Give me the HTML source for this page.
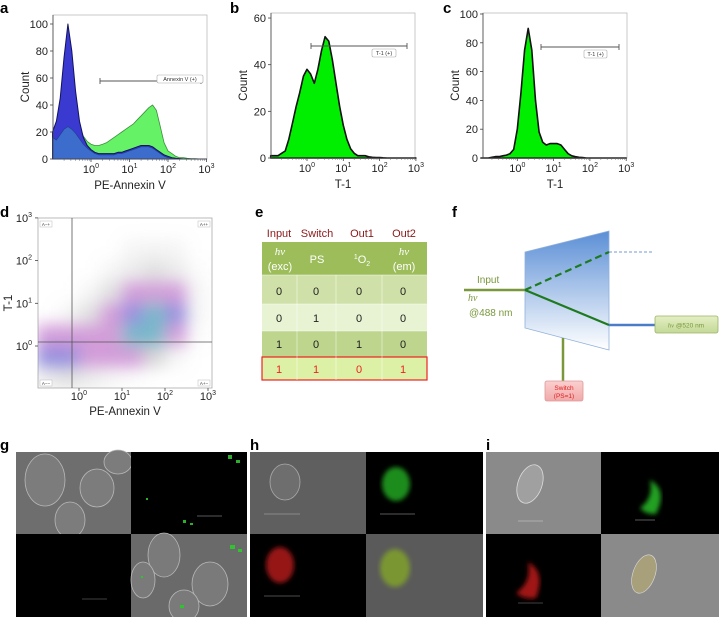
<!DOCTYPE html>
<html><head><meta charset="utf-8"><style>
html,body{margin:0;padding:0;background:#fff;}
svg{display:block;font-family:"Liberation Sans",Arial,sans-serif;}
</style></head><body>
<svg id="fig" width="719" height="617" viewBox="0 0 719 617" xmlns="http://www.w3.org/2000/svg">
<defs>
 <filter id="blur" x="-20%" y="-20%" width="140%" height="140%"><feGaussianBlur stdDeviation="8"/></filter>
 <filter id="soft"><feGaussianBlur stdDeviation="2.5"/></filter>
 <linearGradient id="prism" x1="0" y1="0" x2="0" y2="1"><stop offset="0" stop-color="#5b8fd6"/><stop offset="1" stop-color="#ffffff"/></linearGradient>
 <linearGradient id="boxg" x1="0" y1="0" x2="0" y2="1"><stop offset="0" stop-color="#e4efc4"/><stop offset="1" stop-color="#c4d996"/></linearGradient>
 <linearGradient id="boxp" x1="0" y1="0" x2="0" y2="1"><stop offset="0" stop-color="#fbd0d0"/><stop offset="1" stop-color="#f2a8a8"/></linearGradient>
 <clipPath id="clipD"><rect x="38" y="218" width="174" height="170"/></clipPath>
</defs>

<text x="0" y="13" font-size="15" font-weight="bold">a</text>
<text x="230" y="13" font-size="15" font-weight="bold">b</text>
<text x="443" y="13" font-size="15" font-weight="bold">c</text>
<text x="0" y="217" font-size="15" font-weight="bold">d</text>
<text x="255" y="217" font-size="15" font-weight="bold">e</text>
<text x="452" y="217" font-size="15" font-weight="bold">f</text>
<text x="0" y="450" font-size="15" font-weight="bold">g</text>
<text x="250" y="450" font-size="15" font-weight="bold">h</text>
<text x="486" y="450" font-size="15" font-weight="bold">i</text>

<g id="charts"></g>

<g font-size="11">
 <text x="279" y="237" text-anchor="middle" fill="#8b1a1a">Input</text>
 <text x="317" y="237" text-anchor="middle" fill="#8b1a1a">Switch</text>
 <text x="362" y="237" text-anchor="middle" fill="#8b1a1a">Out1</text>
 <text x="404" y="237" text-anchor="middle" fill="#8b1a1a">Out2</text>
 <rect x="262" y="242" width="165" height="33" fill="#9cbd5a"/>
 <rect x="262" y="275" width="165" height="29" fill="#cfe0a8"/>
 <rect x="262" y="304" width="165" height="27" fill="#e7f3d2"/>
 <rect x="262" y="331" width="165" height="26" fill="#bdd58c"/>
 <rect x="262" y="357" width="165" height="23" fill="#dcf0a6" stroke="#ee2222" stroke-width="1.2"/>
 <g stroke="#ffffff" stroke-opacity="0.6" stroke-width="0.8">
  <line x1="297" y1="275" x2="297" y2="380"/><line x1="336" y1="275" x2="336" y2="380"/><line x1="382" y1="275" x2="382" y2="380"/>
  <line x1="262" y1="275" x2="427" y2="275"/><line x1="262" y1="304" x2="427" y2="304"/><line x1="262" y1="331" x2="427" y2="331"/>
 </g>
 <g fill="#ffffff" text-anchor="middle" font-size="11">
  <text x="280" y="255" font-family="Liberation Serif,serif" font-style="italic">hν</text>
  <text x="280" y="270">(exc)</text>
  <text x="317" y="263">PS</text>
  <text x="362" y="263"><tspan font-size="7" dy="-4">1</tspan><tspan dy="4">O</tspan><tspan font-size="7" dy="3">2</tspan></text>
  <text x="404" y="255" font-family="Liberation Serif,serif" font-style="italic">hν</text>
  <text x="404" y="270">(em)</text>
 </g>
 <g text-anchor="middle" fill="#222">
  <text x="279" y="295">0</text><text x="316" y="295">0</text><text x="359" y="295">0</text><text x="403" y="295">0</text>
  <text x="279" y="322">0</text><text x="316" y="322">1</text><text x="359" y="322">0</text><text x="403" y="322">0</text>
  <text x="279" y="348">1</text><text x="316" y="348">0</text><text x="359" y="348">1</text><text x="403" y="348">0</text>
 </g>
 <g text-anchor="middle" fill="#ee2222">
  <text x="279" y="373">1</text><text x="316" y="373">1</text><text x="359" y="373">0</text><text x="403" y="373">1</text>
 </g>
</g>

<g>
 <polygon points="525,252 609,231 609,350 525,328" fill="url(#prism)" stroke="#8fb0dc" stroke-width="0.8"/>
 <line x1="464" y1="290" x2="525" y2="290" stroke="#7a973c" stroke-width="2.5"/>
 <line x1="525" y1="290" x2="609" y2="252" stroke="#1e7a1e" stroke-width="2.2" stroke-dasharray="7,4"/>
 <line x1="525" y1="290" x2="609" y2="325" stroke="#1e7a1e" stroke-width="2.2"/>
 <line x1="609" y1="252" x2="653" y2="252" stroke="#4a78c8" stroke-width="0.8" stroke-dasharray="3,2"/>
 <line x1="609" y1="325" x2="655" y2="325" stroke="#4a7cc8" stroke-width="2.5"/>
 <line x1="563" y1="338" x2="563" y2="381" stroke="#7a973c" stroke-width="2.5"/>
 <text x="477" y="283" font-size="10" fill="#7a973c">Input</text>
 <text x="468" y="301" font-size="10" fill="#7a973c" font-style="italic" font-family="Liberation Serif,serif">hν</text>
 <text x="469" y="316" font-size="10" fill="#7a973c">@488 nm</text>
 <rect x="655" y="316" width="63" height="17" rx="2" fill="url(#boxg)" stroke="#9ab36a" stroke-width="0.8"/>
 <text x="686" y="327.5" font-size="6.5" fill="#7a973c" text-anchor="middle"><tspan font-style="italic" font-family="Liberation Serif,serif">hν</tspan> @520 nm</text>
 <rect x="545" y="381" width="38" height="20" rx="2" fill="url(#boxp)" stroke="#dd9999" stroke-width="0.8"/>
 <text x="564" y="390" font-size="6.5" fill="#e02020" text-anchor="middle">Switch</text>
 <text x="564" y="398" font-size="6.5" fill="#e02020" text-anchor="middle">(PS=1)</text>
</g>

<g id="micro">
 <rect x="16" y="452" width="115" height="82" fill="#6e6e6e"/>
 <g fill="#7c7c7c" stroke="#b8b8b8" stroke-width="0.8">
  <ellipse cx="45" cy="480" rx="20" ry="26"/><ellipse cx="97" cy="488" rx="17" ry="19"/><ellipse cx="70" cy="520" rx="15" ry="18"/><ellipse cx="118" cy="462" rx="14" ry="12"/>
 </g>
 <rect x="131" y="452" width="116" height="82" fill="#000"/>
 <g fill="#2ab02a"><rect x="228" y="455" width="4" height="4"/><rect x="236" y="460" width="4" height="3"/><rect x="183" y="520" width="3" height="3"/><rect x="190" y="523" width="3" height="2"/><rect x="146" y="498" width="2" height="2"/></g>
 <line x1="197" y1="516" x2="222" y2="516" stroke="#777" stroke-width="0.8"/>
 <rect x="16" y="534" width="115" height="83" fill="#000"/>
 <line x1="82" y1="599" x2="107" y2="599" stroke="#555" stroke-width="0.8"/>
 <rect x="131" y="534" width="116" height="83" fill="#6a6a6a"/>
 <g fill="#7a7a7a" stroke="#b8b8b8" stroke-width="0.8">
  <ellipse cx="164" cy="555" rx="16" ry="22"/><ellipse cx="210" cy="584" rx="18" ry="22"/><ellipse cx="184" cy="606" rx="15" ry="16"/><ellipse cx="143" cy="580" rx="12" ry="18"/>
 </g>
 <g fill="#2ec42e"><rect x="230" y="545" width="5" height="4"/><rect x="238" y="549" width="4" height="3"/><rect x="180" y="605" width="4" height="3"/><rect x="141" y="576" width="2" height="2"/></g>
 <rect x="250" y="452" width="116" height="82" fill="#5f5f5f"/>
 <ellipse cx="285" cy="482" rx="15" ry="18" fill="#6e6e6e" stroke="#aaa" stroke-width="0.8"/>
 <line x1="264" y1="514" x2="300" y2="514" stroke="#999" stroke-width="0.8"/>
 <rect x="366" y="452" width="117" height="82" fill="#000"/>
 <ellipse cx="396" cy="484" rx="14" ry="17" fill="#1a8c1a" filter="url(#soft)"/>
 <line x1="380" y1="514" x2="415" y2="514" stroke="#777" stroke-width="0.8"/>
 <rect x="250" y="534" width="116" height="83" fill="#000"/>
 <ellipse cx="280" cy="565" rx="14" ry="18" fill="#961414" filter="url(#soft)"/>
 <line x1="264" y1="596" x2="300" y2="596" stroke="#666" stroke-width="0.8"/>
 <rect x="366" y="534" width="117" height="83" fill="#5a5a5a"/>
 <ellipse cx="395" cy="568" rx="15" ry="19" fill="#7a9630" filter="url(#soft)"/>
 <rect x="486" y="452" width="115" height="82" fill="#8a8a8a"/>
 <ellipse cx="530" cy="484" rx="12" ry="20" fill="#a0a0a0" stroke="#ddd" stroke-width="0.8" transform="rotate(20 530 484)"/>
 <line x1="518" y1="521" x2="543" y2="521" stroke="#bbb" stroke-width="0.8"/>
 <rect x="601" y="452" width="118" height="82" fill="#000"/>
 <path d="M650,480 Q668,490 656,514 Q646,515 640,508 Q654,498 650,480Z" fill="#22a022" filter="url(#soft)"/>
 <line x1="635" y1="520" x2="655" y2="520" stroke="#777" stroke-width="0.8"/>
 <rect x="486" y="534" width="115" height="83" fill="#000"/>
 <path d="M528,562 Q546,572 536,598 Q524,600 516,593 Q532,582 528,562Z" fill="#a01414" filter="url(#soft)"/>
 <line x1="518" y1="603" x2="543" y2="603" stroke="#555" stroke-width="0.8"/>
 <rect x="601" y="534" width="118" height="83" fill="#8a8a8a"/>
 <ellipse cx="644" cy="574" rx="11" ry="20" fill="#a8a07a" stroke="#ddd" stroke-width="0.6" transform="rotate(20 644 574)"/>
 <line x1="248" y1="452" x2="248" y2="617" stroke="#fff" stroke-width="2"/>
 <line x1="484.5" y1="452" x2="484.5" y2="617" stroke="#fff" stroke-width="2"/>
</g>
</svg>

<script>
const logBins = [-1.0,-0.9,-0.8,-0.7,-0.6,-0.5,-0.4,-0.3,-0.2,-0.1,0.0,0.1,0.2,0.3,0.4,0.5,0.6,0.7,0.8,0.9,1.0,1.1,1.2,1.3,1.4,1.5,1.6,1.7,1.8,1.9,2.0,2.1,2.2,2.3,2.4,2.5,2.6,2.7,2.8,2.9,3.0];
const aGreen = [18,22,35,60,90,65,38,24,17,13,11,10,10,11,12,14,16,18,20,22,24,26,29,32,35,38,40,36,24,12,6,4,2,1,1,0.5,0.3,0.2,0.1,0,0];
const aNavy  = [20,28,45,75,100,80,50,28,16,10,7,5,4,4,4,4,4,5,5,6,7,8,9,10,10,10,9,7,5,3,2,1,0.5,0.3,0,0,0,0,0,0,0];
const aBlue  = [16,14,18,22,24,22,19,15,11,8,6,4,3,3,3,3,3,4,4,5,6,7,8,9,9,9,8,6,4,2,1,0.5,0,0,0,0,0,0,0,0,0];
const bCounts = [1,1,1,2,3,8,15,22,28,35,38,36,32,38,46,52,50,42,32,22,14,8,4,2,1,1,1,0.5,0.3,0.2,0.2,0.1,0,0,0,0,0,0,0,0,0];
const cCounts = [0,0,0,0.5,1,1,1.5,2,3,6,20,45,75,90,75,40,18,11,9,10,10,10,9,6,3,1.5,1,0.5,0.3,0,0,0,0,0,0,0,0,0,0,0,0];
const aYTicks = [0,20,40,60,80,100];
const bYTicks = [0,20,40,60];
const cYTicks = [0,20,40,60,80,100];
const decadeTicks = [0,1,2,3];
const dDensity = [
 [0,0,0,0,0,0,0,0],
 [0,0,0,0,0.05,0.06,0.05,0],
 [0,0,0,0.05,0.1,0.15,0.1,0.02],
 [0,0,0.05,0.15,0.25,0.35,0.25,0.05],
 [0,0.05,0.15,0.3,0.55,0.8,0.5,0.05],
 [0.35,0.3,0.3,0.4,0.7,0.9,0.4,0.02],
 [0.6,0.5,0.3,0.3,0.3,0.2,0.05,0],
 [0.1,0.15,0.1,0.05,0.02,0,0,0]
];

const NS = 'http://www.w3.org/2000/svg';
const root = document.getElementById('charts');
function mk(tag, attrs, parent){
  const e = document.createElementNS(NS, tag);
  for (const k in attrs) e.setAttribute(k, attrs[k]);
  (parent||root).appendChild(e);
  return e;
}

function histPanel(p){
  const X = l => p.x0 + (l + 1) * p.dec;
  const Y = v => p.yb - v * p.ys;
  const fr = mk('rect', {x:p.L, y:p.T, width:p.R-p.L, height:p.yb-p.T, fill:'none', stroke:'#bbb', 'stroke-width':0.8});
  
  
  p.series.forEach(s => {
    let d = 'M' + X(logBins[0]) + ',' + p.yb;
    s.vals.forEach((v,i) => { d += ' L' + X(logBins[i]).toFixed(1) + ',' + Y(v).toFixed(1); });
    d += ' L' + X(logBins[logBins.length-1]) + ',' + p.yb + 'Z';
    const path = mk('path', {d:d, fill:s.fill, stroke:s.stroke, 'stroke-width':s.sw, 'stroke-linejoin':'round'});
    
    
  });
  mk('line', {x1:p.L, y1:p.T, x2:p.L, y2:p.yb, stroke:'#444', 'stroke-width':0.8});
  mk('line', {x1:p.L, y1:p.yb, x2:p.R, y2:p.yb, stroke:'#444', 'stroke-width':0.8});
  p.yTicks.forEach(t => {
    mk('line', {x1:p.L-3, y1:Y(t), x2:p.L, y2:Y(t), stroke:'#444', 'stroke-width':0.8});
    const tx = mk('text', {x:p.L-5, y:Y(t)+4, 'font-size':11, 'text-anchor':'end', fill:'#222'});
    tx.textContent = t;
    
    
  });
  decadeTicks.forEach(dd => {
    mk('line', {x1:X(dd), y1:p.yb, x2:X(dd), y2:p.yb+3, stroke:'#444', 'stroke-width':0.8});
    for (let m=2;m<10;m++){ const xm = X(dd-1+Math.log10(m)); if (xm>p.L) mk('line',{x1:xm,y1:p.yb,x2:xm,y2:p.yb+1.8,stroke:'#666','stroke-width':0.6}); }
    const tx = mk('text', {x:X(dd), y:p.yb+14, 'font-size':11, 'text-anchor':'middle', fill:'#222'});
    tx.innerHTML = '10<tspan font-size="7" dy="-5">' + dd + '</tspan>';
    
    
  });
  const xl = mk('text', {x:(p.L+p.R)/2, y:p.yb+30, 'font-size':11.5, 'text-anchor':'middle', fill:'#222'});
  xl.textContent = p.xlabel;
  
  
  const cy = (p.T+p.yb)/2;
  const yl = mk('text', {x:p.L-24, y:cy, 'font-size':11.5, 'text-anchor':'middle', fill:'#222', transform:'rotate(-90 '+(p.L-24)+' '+cy+')'});
  yl.textContent = 'Count';
  
  
  const g = p.gate;
  const gl = mk('path', {d:'M'+g.x1+','+g.y+' H'+g.x2+' M'+g.x1+','+(g.y-3)+' V'+(g.y+3)+' M'+g.x2+','+(g.y-3)+' V'+(g.y+3), stroke:'#555', 'stroke-width':0.9, fill:'none'});
  
  
  const gb = mk('rect', {x:g.bx, y:g.by, width:g.bw, height:8, rx:1.5, fill:'#fff', stroke:'#aaa', 'stroke-width':0.6});
  
  
  const gt = mk('text', {x:g.bx+g.bw/2, y:g.by+6, 'font-size':5.5, 'text-anchor':'middle', fill:'#333'});
  gt.textContent = g.label;
  
  
}

histPanel({id:'a', L:53, R:207, T:15, yb:159, x0:52.5, dec:38.5, ys:1.35, yTicks:aYTicks, xlabel:'PE-Annexin V',
  series:[{name:'green',vals:aGreen,fill:'#66f266',stroke:'#3b8f3b',sw:0.8},
          {name:'navy',vals:aNavy,fill:'#3a3ad0',stroke:'#12125e',sw:1},
          {name:'blue',vals:aBlue,fill:'#3c6ccc',stroke:'#1d3f8a',sw:0.6}],
  gate:{x1:100,x2:201,y:81,bx:157,by:75,bw:46,label:'Annexin V (+)'}});
histPanel({id:'b', L:271, R:415, T:13, yb:158, x0:270.7, dec:36.3, ys:2.333, yTicks:bYTicks, xlabel:'T-1',
  series:[{name:'t1',vals:bCounts,fill:'#00ee00',stroke:'#111',sw:1.6}],
  gate:{x1:311,x2:407,y:46,bx:372,by:49,bw:24,label:'T-1 (+)'}});
histPanel({id:'c', L:483, R:627, T:13, yb:158, x0:481, dec:36.3, ys:1.44, yTicks:cYTicks, xlabel:'T-1',
  series:[{name:'t1',vals:cCounts,fill:'#00ee00',stroke:'#111',sw:1.6}],
  gate:{x1:541,x2:619,y:47,bx:584,by:50,bw:23,label:'T-1 (+)'}});

(function(){
  const XL = l => 36 + (l + 1) * 43;
  const YL = l => 346 - l * 42.7;
  const frame = mk('rect', {x:38, y:218, width:174, height:170, fill:'#fff', stroke:'#aaa', 'stroke-width':0.8});
  
  
  const grp = mk('g', {'clip-path':'url(#clipD)'});
  const inner = mk('g', {filter:'url(#blur)'}, grp);
  dDensity.forEach((row, r) => {
    row.forEach((v, c) => {
      if (v <= 0) return;
      const lx = -1 + c * 0.5, ly = 3 - r * 0.5;
      let col = '#999', op = Math.min(0.45, v * 2);
      if (v >= 0.25) { col = '#b45ac0'; op = 0.6; }
      if (v >= 0.45) { col = '#6a60d0'; op = 0.7; }
      if (v >= 0.7) { col = '#4aa0b8'; op = 0.75; }
      const cell = mk('rect', {x:XL(lx), y:YL(ly), width:XL(lx+0.5)-XL(lx), height:YL(ly-0.5)-YL(ly), fill:col, 'fill-opacity':op}, inner);
      
      
    });
  });
  mk('line', {x1:72, y1:218, x2:72, y2:388, stroke:'#555', 'stroke-width':0.8});
  mk('line', {x1:38, y1:342, x2:212, y2:342, stroke:'#555', 'stroke-width':0.8});
  [['A−+',40,221],['A++',198,221],['A−−',40,380],['A+−',198,380]].forEach(q => {
    const b = mk('rect',{x:q[1],y:q[2],width:12,height:6,fill:'#fff',stroke:'#bbb','stroke-width':0.5});
    
    
    const t = mk('text',{x:q[1]+6,y:q[2]+4.8,'font-size':4.5,'text-anchor':'middle',fill:'#333'});
    t.textContent = q[0];
  });
  decadeTicks.forEach(dd => {
    const ty = mk('text', {x:32, y:YL(dd)+4, 'font-size':11, 'text-anchor':'end', fill:'#222'});
    ty.innerHTML = '10<tspan font-size="7" dy="-5">' + dd + '</tspan>';
    
    
    mk('line',{x1:38,y1:YL(dd),x2:35,y2:YL(dd),stroke:'#444','stroke-width':0.8});
    const tx = mk('text', {x:XL(dd), y:400, 'font-size':11, 'text-anchor':'middle', fill:'#222'});
    tx.innerHTML = '10<tspan font-size="7" dy="-5">' + dd + '</tspan>';
    
    
    mk('line',{x1:XL(dd),y1:388,x2:XL(dd),y2:391,stroke:'#444','stroke-width':0.8});
  });
  const xl = mk('text', {x:125, y:415, 'font-size':11.5, 'text-anchor':'middle', fill:'#222'});
  xl.textContent = 'PE-Annexin V';
  
  
  const yl = mk('text', {x:12, y:303, 'font-size':11.5, 'text-anchor':'middle', fill:'#222', transform:'rotate(-90 12 303)'});
  yl.textContent = 'T-1';
  
  
})();
</script>
</body></html>
